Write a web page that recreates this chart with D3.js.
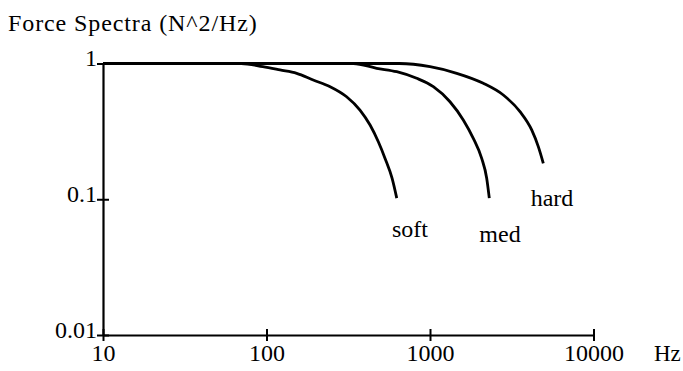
<!DOCTYPE html>
<html>
<head>
<meta charset="utf-8">
<script src="https://cdn.jsdelivr.net/npm/d3@7"></script>
<style>
  html, body { margin: 0; padding: 0; background: #fff; }
  svg { display: block; }
  text { font-family: "Liberation Serif", "Times New Roman", serif; fill: #000; }
</style>
</head>
<body>
<svg id="chart" width="683" height="371"></svg>
<script>
// Frequency axis ticks (Hz) and force-spectrum axis ticks
const xTicks = [10, 100, 1000, 10000];
const yTicks = [0.01, 0.1, 1];
const xTickLabels = ["10", "100", "1000", "10000"];
const yTickLabels = ["0.01", "0.1", "1"];

// Normalised force spectra for three impact tips
const softFreq = [10, 70, 95, 121, 153, 193, 245, 309, 373, 430, 483, 531, 586, 626];
const softVal  = [1, 1, 0.947, 0.896, 0.847, 0.756, 0.675, 0.569, 0.454, 0.352, 0.265, 0.200, 0.143, 0.102];

const medFreq = [10, 340, 472, 626, 829, 1048, 1325, 1598, 1840, 2071, 2222, 2305];
const medVal  = [1, 1, 0.922, 0.870, 0.778, 0.675, 0.523, 0.384, 0.281, 0.200, 0.143, 0.102];

const hardFreq = [10, 650, 1000, 1457, 2118, 2807, 3552, 4188, 4597, 4932];
const hardVal  = [1, 1, 0.947, 0.847, 0.715, 0.586, 0.442, 0.324, 0.244, 0.184];

const seriesNames = ["soft", "med", "hard"];

const series = [
  { name: seriesNames[0], freq: softFreq, val: softVal, lx: 410, ly: 237 },
  { name: seriesNames[1], freq: medFreq,  val: medVal,  lx: 500, ly: 242 },
  { name: seriesNames[2], freq: hardFreq, val: hardVal, lx: 552, ly: 206 }
];

const svg = d3.select("#chart");

const x = d3.scaleLog().domain([10, 10000]).range([103, 593.5]);
const y = d3.scaleLog().domain([0.01, 1]).range([335, 63.5]);

const fontSize = 24;

// Y axis: ticks cross the axis line
const yAxis = d3.axisLeft(y)
  .tickValues(yTicks)
  .tickFormat((d, i) => yTickLabels[i])
  .tickSizeOuter(0)
  .tickSizeInner(6);

const gy = svg.append("g").attr("transform", `translate(${x(10)},0)`).call(yAxis);
gy.select(".domain").attr("stroke-width", 2.2);
gy.selectAll(".tick line").attr("x1", -6).attr("x2", 6).attr("stroke-width", 2);
gy.selectAll(".tick text")
  .attr("x", -6).attr("dy", 2)
  .attr("font-family", null).attr("font-size", fontSize);

// X axis
const xAxis = d3.axisBottom(x)
  .tickValues(xTicks)
  .tickFormat((d, i) => xTickLabels[i])
  .tickSizeOuter(0)
  .tickSizeInner(6);

const gx = svg.append("g").attr("transform", `translate(0,${y(0.01)})`).call(xAxis);
gx.select(".domain").attr("stroke-width", 2.2);
gx.selectAll(".tick line").attr("y1", -6).attr("y2", 6).attr("stroke-width", 2);
gx.selectAll(".tick text")
  .attr("y", 26).attr("dy", 0)
  .attr("font-family", null).attr("font-size", fontSize);

// Axis titles
svg.append("text").attr("x", 8).attr("y", 31)
  .attr("font-size", fontSize).attr("letter-spacing", 0.9)
  .text("Force Spectra (N^2/Hz)");
svg.append("text").attr("x", 654).attr("y", 361)
  .attr("font-size", 23).text("Hz");

// Spectra curves
const line = d3.line()
  .x(d => x(d[0]))
  .y(d => y(d[1]))
  .curve(d3.curveMonotoneX);

series.forEach(s => {
  const pts = s.freq.map((f, i) => [f, s.val[i]]);
  svg.append("path")
    .attr("d", line(pts))
    .attr("fill", "none")
    .attr("stroke", "#000")
    .attr("stroke-width", 2.8)
    .attr("stroke-linejoin", "round");
  svg.append("text")
    .attr("x", s.lx).attr("y", s.ly)
    .attr("text-anchor", "middle")
    .attr("font-size", fontSize)
    .text(s.name);
});
</script>
</body>
</html>
